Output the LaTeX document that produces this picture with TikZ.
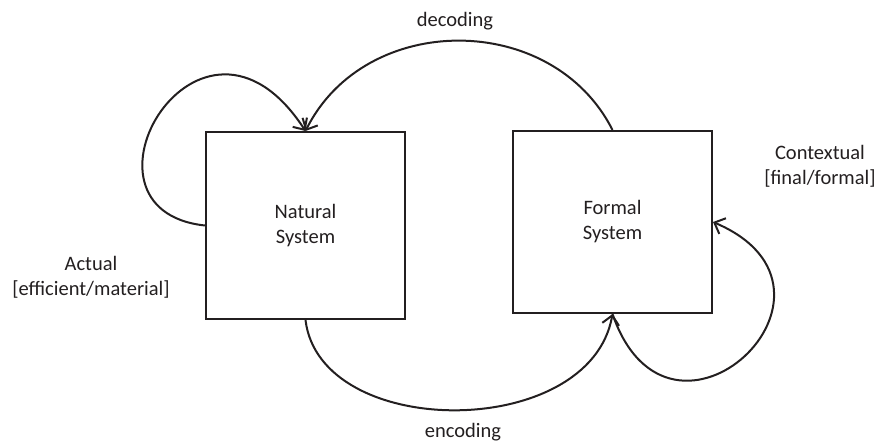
\documentclass[tikz,border=0pt]{standalone}
\usepackage{fontspec}
\setmainfont{Carlito}
\usetikzlibrary{arrows.meta}
\definecolor{ink}{RGB}{35,31,32}
\begin{document}
\begin{tikzpicture}[x=1pt,y=-1pt,
  every node/.style={text=ink,font=\fontsize{20.5}{25}\selectfont},
  sysbox/.style={draw=ink,line width=2pt,minimum width=199pt,align=center,inner sep=0pt},
  conn/.style={draw=ink,line width=2pt},
  tip/.style={-{Straight Barb[length=9pt,width=17pt]}},
  lbl/.style={align=center,inner sep=0pt}]
\useasboundingbox (0,0) rectangle (881,442);
\node[sysbox,minimum height=187pt] (nat) at (305.5,225.5) {Natural\\System};
\node[sysbox,minimum height=182pt] (form) at (612.5,222) {Formal\\System};
% decoding
\draw[conn,tip] (form.north) .. controls +(-60,-119) and +(60,-120) .. (nat.north);
% encoding
\draw[conn,tip] (nat.south) .. controls +(14.5,121) and +(-22.5,127) .. (form.south);
% left loop
\draw[conn,tip] (nat.west) .. controls +(-146,-15.5) and +(-105.5,-162) .. (nat.north);
% right loop
\draw[conn,tip] (form.south) .. controls +(57.5,167) and +(160,68) .. (form.east);
\node[lbl,anchor=base] (dec) at (455,26) {decoding};
\node[lbl,anchor=base] (enc) at (463,437) {encoding};
\node[lbl] (act) at (91,277) {Actual\\{[efficient/material]}};
\node[lbl] (ctx) at (820,166) {Contextual\\{[final/formal]}};
\end{tikzpicture}
\end{document}
